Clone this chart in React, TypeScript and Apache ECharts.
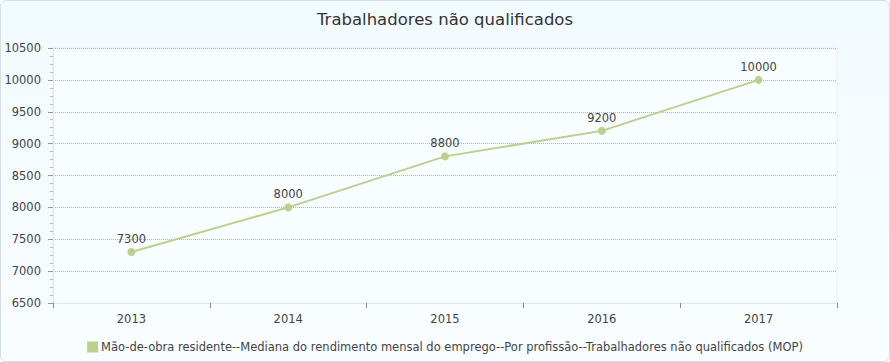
import React, { useEffect, useRef } from "react";
import * as echarts from "echarts";

const title = "Trabalhadores não qualificados";
const categories = ["2013", "2014", "2015", "2016", "2017"];
const seriesName = "Mão-de-obra residente--Mediana do rendimento mensal do emprego--Por profissão--Trabalhadores não qualificados (MOP)";
const values = [7300, 8000, 8800, 9200, 10000];
const yMin = 6500;
const yMax = 10500;
const yInterval = 500;

export default function App() {
  const ref = useRef<HTMLDivElement>(null);
  useEffect(() => {
    document.body.style.margin = "0";
    const chart = echarts.init(ref.current!, undefined, { renderer: "svg" });
    const font = "'DejaVu Sans', Verdana, sans-serif";
    chart.setOption({
      animation: false,
      backgroundColor: "transparent",
      title: {
        text: title,
        left: "center",
        top: 6,
        textStyle: { fontFamily: font, fontSize: 16.5, fontWeight: "normal", color: "#333" },
      },
      legend: {
        bottom: 4,
        left: "center",
        icon: "rect",
        itemWidth: 11,
        itemHeight: 11,
        itemGap: 4,
        textStyle: { fontFamily: font, fontSize: 11.5, color: "#444", padding: [0, 0, 0, -2] },
        data: [seriesName],
      },
      grid: {
        left: 53,
        right: 53,
        top: 48,
        bottom: 59,
        show: true,
        backgroundColor: "#f8feff",
        borderColor: "#eceff1",
        borderWidth: 1,
      },
      xAxis: {
        type: "category",
        data: categories,
        boundaryGap: true,
        axisLine: { lineStyle: { color: "#e4e9ec" } },
        axisTick: { show: true, length: 5, lineStyle: { color: "#888" } },
        axisLabel: { fontFamily: font, fontSize: 11.5, color: "#444", margin: 10 },
      },
      yAxis: {
        type: "value",
        min: yMin,
        max: yMax,
        interval: yInterval,
        axisLine: { show: true, lineStyle: { color: "#e4e4e4" } },
        axisTick: { show: true, length: 5, lineStyle: { color: "#999" } },
        minorTick: { show: true, splitNumber: 4, length: 3, lineStyle: { color: "#bbb" } },
        axisLabel: { fontFamily: font, fontSize: 11.5, color: "#444", margin: 12, formatter: (v: number) => String(v) },
        splitLine: { show: true, lineStyle: { color: "#b5b5b5", type: [1, 1] } },
      },
      series: [
        {
          name: seriesName,
          type: "line",
          data: values,
          color: "#bccf8e",
          symbol: "circle",
          symbolSize: 8,
          lineStyle: { width: 2, color: "#bccf8e" },
          itemStyle: { color: "#bccf8e" },
          label: { show: true, position: "top", distance: 3, fontFamily: font, fontSize: 11.5, color: "#444" },
        },
      ],
    });
    return () => chart.dispose();
  }, []);
  return (
    <div style={{ position: "absolute", left: 0, top: 0, width: 890, height: 362 }}>
      <div
        style={{
          position: "absolute",
          left: 0,
          top: 0,
          width: 888,
          height: 360,
          border: "1px solid #d3dfe5",
          borderRadius: 6,
          background: "linear-gradient(#f2fbff, #f9fdff)",
        }}
      />
      <div ref={ref} style={{ position: "absolute", left: 0, top: 0, width: 890, height: 362 }} />
    </div>
  );
}
